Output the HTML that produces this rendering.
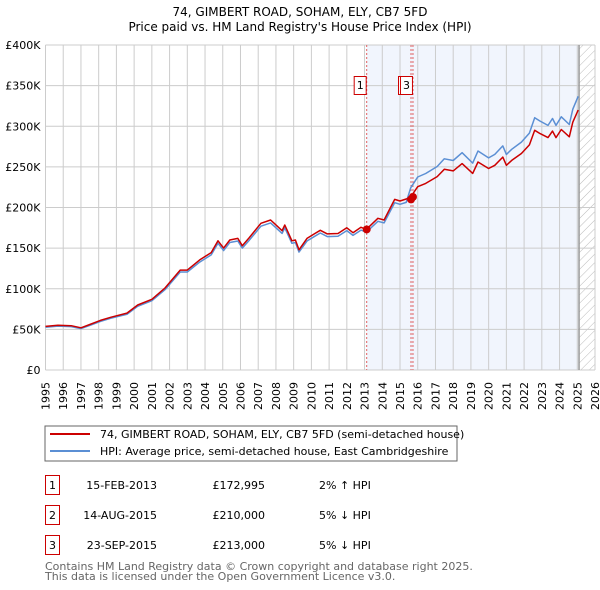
<!DOCTYPE html>
<html><head><meta charset="utf-8"><style>
body{margin:0;background:#fff;font-family:"DejaVu Sans","Liberation Sans",sans-serif;}
svg{display:block}
</style></head><body>
<svg id="c" width="600" height="590" xmlns="http://www.w3.org/2000/svg" font-family="DejaVu Sans, Liberation Sans, sans-serif">
<text x="300" y="16" text-anchor="middle" font-size="12" fill="#000">74, GIMBERT ROAD, SOHAM, ELY, CB7 5FD</text>
<text x="300" y="31" text-anchor="middle" font-size="12" fill="#000">Price paid vs. HM Land Registry's House Price Index (HPI)</text>
<defs><pattern id="hatch" width="6" height="6" patternUnits="userSpaceOnUse" patternTransform="rotate(45)"><line x1="0" y1="0" x2="0" y2="6" stroke="#bbb" stroke-width="1"/></pattern></defs>
<g id="plot"></g>
<rect x="45" y="426" width="412" height="35" fill="#fff" stroke="#666"/>
<line x1="50" y1="434" x2="90" y2="434" stroke="#cc0000" stroke-width="2"/>
<text x="100" y="438" font-size="11">74, GIMBERT ROAD, SOHAM, ELY, CB7 5FD (semi-detached house)</text>
<line x1="50" y1="451" x2="90" y2="451" stroke="#5b8fd4" stroke-width="2"/>
<text x="100" y="455" font-size="11">HPI: Average price, semi-detached house, East Cambridgeshire</text>
<g font-size="11">
<rect x="45.5" y="475.5" width="14" height="19" fill="#fff" stroke="#cc0000"/><text x="52.5" y="489" text-anchor="middle">1</text>
<text x="157" y="489" text-anchor="end">15-FEB-2013</text><text x="265" y="489" text-anchor="end">£172,995</text><text x="319" y="489">2% ↑ HPI</text>
<rect x="45.5" y="505.5" width="14" height="19" fill="#fff" stroke="#cc0000"/><text x="52.5" y="519" text-anchor="middle">2</text>
<text x="157" y="519" text-anchor="end">14-AUG-2015</text><text x="265" y="519" text-anchor="end">£210,000</text><text x="319" y="519">5% ↓ HPI</text>
<rect x="45.5" y="535.5" width="14" height="19" fill="#fff" stroke="#cc0000"/><text x="52.5" y="549" text-anchor="middle">3</text>
<text x="157" y="549" text-anchor="end">23-SEP-2015</text><text x="265" y="549" text-anchor="end">£213,000</text><text x="319" y="549">5% ↓ HPI</text>
</g>
<text x="45" y="570" font-size="11" fill="#666">Contains HM Land Registry data © Crown copyright and database right 2025.</text>
<text x="45" y="580" font-size="11" fill="#666">This data is licensed under the Open Government Licence v3.0.</text>
</svg>
<script>
const years=[1995.0,1995.7,1996.45,1997.0,1997.5,1998.1,1998.7,1999.6,2000.2,2001.0,2001.75,2002.6,2003.0,2003.7,2004.35,2004.73,2005.05,2005.4,2005.85,2006.1,2006.5,2007.15,2007.7,2007.9,2008.35,2008.5,2008.9,2009.1,2009.3,2009.75,2010.2,2010.5,2010.9,2011.5,2012.0,2012.35,2012.8,2013.1,2013.75,2014.1,2014.7,2015.0,2015.35,2015.6,2016.0,2016.45,2017.1,2017.5,2018.0,2018.5,2019.1,2019.4,2020.0,2020.35,2020.8,2021.0,2021.3,2021.85,2022.3,2022.6,2022.9,2023.35,2023.6,2023.8,2024.1,2024.55,2024.75,2025.05];
const priceK=[53.6,55,54.5,52,56,61,65,70,80,87,101,123,123,135.5,144.5,159,150,160,162,153,163,180.5,184.6,180.5,171.5,178.5,159,160,148,162,168,172,167.5,168,175,169,175.6,173,186.7,184.6,210,208,210.4,213,225.6,229.7,238,247,245,254,242,256,248,252,262,252,258,266.5,277,295,291,286,294,286,296,287,305,320];
const hpiK=[52.5,54,53.4,51,54.9,59.8,63.7,68.6,78.4,85.3,99,120.6,120.6,132.8,141.7,155.9,147,156.9,158.8,150,159.8,177,181,177,168.1,175,155.9,156.9,145.1,158.8,164.7,168.6,164.2,164.7,171.6,165.7,172.2,169.6,183,181,205.9,203.9,206.3,224.2,237.5,241.8,250.5,260,257.9,267.4,254.7,269.5,261,265.3,275.8,265.3,271.6,280.5,291.6,310.5,306.3,301,309.5,301,311.6,302.1,321,336.8];
const yTicks=[0,50,100,150,200,250,300,350,400];
const yTickLabels=["£0","£50K","£100K","£150K","£200K","£250K","£300K","£350K","£400K"];
const xTicks=[1995,1996,1997,1998,1999,2000,2001,2002,2003,2004,2005,2006,2007,2008,2009,2010,2011,2012,2013,2014,2015,2016,2017,2018,2019,2020,2021,2022,2023,2024,2025,2026];
const saleYears=[2013.12,2015.62,2015.73];
const saleLabels=["1","2","3"];
const saleValuesK=[172.995,210,213];
const shadeStart=2013.12, dataEnd=2025.1;

const X0=45.5,X1=595,Y0=370,Y1=45;
const xs=y=>X0+(y-1995)/(2026-1995)*(X1-X0);
const ys=v=>Y0-(v/400)*(Y0-Y1);
const NS="http://www.w3.org/2000/svg";
const g=document.getElementById('plot');
function mk(t,a){const e=document.createElementNS(NS,t);for(const k in a)e.setAttribute(k,a[k]);g.appendChild(e);return e;}

const bg=mk('rect',{x:X0,y:Y1,width:X1-X0,height:Y0-Y1,fill:'#fff'});


const sh=mk('rect',{x:xs(shadeStart),y:Y1,width:xs(dataEnd)-xs(shadeStart),height:Y0-Y1,fill:'#eef3fc',opacity:0.8});


const ht=mk('rect',{x:xs(dataEnd),y:Y1,width:X1-xs(dataEnd),height:Y0-Y1,fill:'url(#hatch)'});



yTicks.forEach((v,i)=>{
  const l=mk('line',{x1:X0,x2:X1,y1:ys(v),y2:ys(v),stroke:'#ccc','stroke-width':1});
  
  
  const t=mk('text',{x:X0-5,y:ys(v)+4,'text-anchor':'end','font-size':11,fill:'#000'});
  t.textContent=yTickLabels[i];
  
  
});
xTicks.forEach(yr=>{
  const l=mk('line',{x1:xs(yr),x2:xs(yr),y1:Y1,y2:Y0,stroke:'#ccc','stroke-width':1});
  
  
  const t=mk('text',{x:0,y:0,'text-anchor':'end','font-size':11,fill:'#000',transform:`translate(${xs(yr)+4},${Y0+12}) rotate(-90)`});
  t.textContent=String(yr);
  
  
});
const el=mk('line',{x1:xs(dataEnd),x2:xs(dataEnd),y1:Y1,y2:Y0,stroke:'#999','stroke-width':1.5});



saleYears.forEach((s,i)=>{
  const l=mk('line',{x1:xs(s),x2:xs(s),y1:Y1,y2:Y0,stroke:'#e06060','stroke-width':1,'stroke-dasharray':'2,2'});
  
  
});
function line(arr,col,name){
  const d=years.map((y,i)=>(i?'L':'M')+xs(y).toFixed(1)+','+ys(arr[i]).toFixed(1)).join(' ');
  const p=mk('path',{d:d,fill:'none',stroke:col,'stroke-width':1.5,'stroke-linejoin':'round'});
  
  
}
line(hpiK,'#5b8fd4','hpi-line');
line(priceK,'#cc0000','price-paid-line');
saleValuesK.forEach((v,i)=>{
  const c=mk('circle',{cx:xs(saleYears[i]),cy:ys(v),r:4,fill:'#cc0000'});
  
  
});
saleYears.forEach((s,i)=>{
  const bx=xs(s)-13;
  const r=mk('rect',{x:bx+0.5,y:76.5,width:12,height:18,fill:'#fff',stroke:'#cc0000'});
  
  
  const t=mk('text',{x:bx+6.5,y:89,'text-anchor':'middle','font-size':11,fill:'#000'});
  t.textContent=saleLabels[i];
  
  
});
</script>
</body></html>
